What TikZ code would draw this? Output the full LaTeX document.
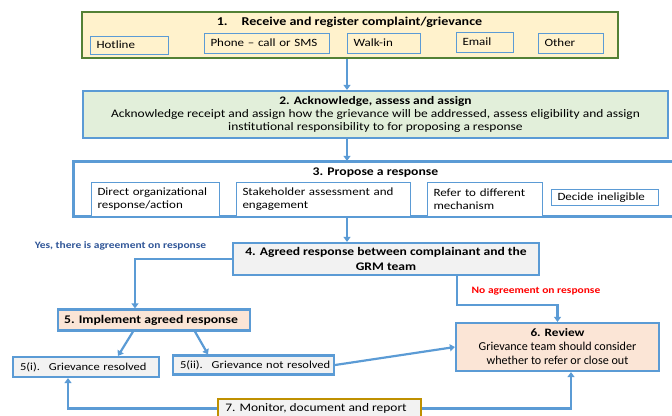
\documentclass[tikz,border=0pt]{standalone}
\usepackage{fontspec}
\setmainfont{Carlito}[FakeStretch=1.17]
\newfontfamily\plainfont{Carlito}
\usetikzlibrary{arrows.meta,calc}
\definecolor{bblue}{HTML}{5B9BD5}
\definecolor{ggreen}{HTML}{538135}
\definecolor{yfill}{HTML}{FFF2CC}
\definecolor{gfill}{HTML}{E2EFDA}
\definecolor{grfill}{HTML}{F2F2F2}
\definecolor{pfill}{HTML}{FBE5D6}
\definecolor{gold}{HTML}{BF9000}
\definecolor{yesblue}{HTML}{2F5597}
\tikzset{
  mainbox/.style={draw=bblue, line width=2.2pt, inner sep=0pt, align=center,
    font=\fontsize{11.5}{13.3}\selectfont},
  subbox/.style={draw=bblue, line width=0.8pt, inner xsep=6.5pt, inner ysep=0pt,
    align=left, font=\fontsize{11.1}{13}\selectfont},
  titletext/.style={inner sep=0pt, font=\fontsize{11.7}{14}\bfseries\selectfont},
  flow/.style={draw=bblue, line width=2.2pt, -{Triangle[length=5pt,width=7pt]}},
  lbl/.style={inner sep=0pt, font=\fontsize{9.8}{11}\bfseries\selectfont}
}
\begin{document}
\begin{tikzpicture}[x=1pt,y=-1pt]
\useasboundingbox (0,0) rectangle (672,415);
% box 1
\node[mainbox, draw=ggreen, line width=2.5pt, fill=yfill, minimum width=536pt, minimum height=46pt] (b1) at (350,35) {};
\node[titletext, font=\fontsize{12}{14}\bfseries\selectfont] (t1) at (349.5,22) {1.\hspace{14pt}Receive and register complaint/grievance};
\node[subbox, fill=yfill, text width=65pt, minimum height=18pt] (hot) at (129,45) {Hotline};
\node[subbox, fill=yfill, text width=112pt, minimum height=20pt] (phone) at (266.5,43) {Phone -- call or SMS};
\node[subbox, fill=yfill, text width=60pt, minimum height=20pt] (walk) at (383.5,43) {Walk-in};
\node[subbox, fill=yfill, text width=44pt, minimum height=20pt] (email) at (484.5,42) {Email};
\node[subbox, fill=yfill, text width=52pt, minimum height=20pt] (other) at (570.5,43) {Other};
\coordinate (spine) at (347,0);
% box 2
\node[mainbox, fill=gfill, minimum width=585pt, minimum height=47pt] (b2) at (375.5,114.5)
 {\textbf{2. Acknowledge, assess and assign}\\
  Acknowledge receipt and assign how the grievance will be addressed, assess eligibility and assign\\
  institutional responsibility to for proposing a response};
% box 3
\node[mainbox, fill=white, minimum width=603pt, minimum height=54pt] (b3) at (375.5,189) {};
\node[titletext] (t3) at (375.5,173) {3. Propose a response};
\node[subbox, fill=white, text width=115pt, minimum height=34pt] (direct) at (155,199) {Direct organizational\\response/action};
\node[subbox, fill=white, text width=161pt, minimum height=34pt] (stake) at (323,199) {Stakeholder assessment and\\engagement};
\node[subbox, fill=white, text width=102pt, minimum height=34pt] (refer) at (484.5,199) {Refer to different\\mechanism};
\node[subbox, fill=white, text width=94pt, minimum height=16pt] (decide) at (604.5,197.5) {Decide ineligible};
% redraw box 3 border over sub-boxes
\draw[draw=bblue, line width=2.2pt] (b3.north west) rectangle (b3.south east);
% box 4
\node[mainbox, fill=grfill, minimum width=306pt, minimum height=32pt, font=\fontsize{11.6}{15}\bfseries\selectfont] (b4) at (386,259)
 {4. Agreed response between complainant and the\\GRM team};
% box 5
\node[mainbox, fill=pfill, minimum width=192pt, minimum height=21pt, font=\fontsize{11.7}{14}\bfseries\selectfont] (b5) at (154,320) {\hspace{-6pt}5. Implement agreed response};
\node[mainbox, fill=grfill, align=left, inner xsep=7pt, text width=132pt, minimum height=20pt, font=\fontsize{10.7}{13}\selectfont] (b5i) at (86,367) {\mbox{5(i).~ Grievance resolved}};
\node[mainbox, fill=grfill, align=left, inner xsep=7pt, text width=147pt, minimum height=19pt, font=\fontsize{10.7}{13}\selectfont] (b5ii) at (253.5,365) {\mbox{5(ii).~ Grievance not resolved}};
% box 6
\node[mainbox, fill=pfill, minimum width=203pt, minimum height=48pt, font=\plainfont\fontsize{12.1}{14}\selectfont] (b6) at (557.5,347)
 {{\normalfont\fontsize{11.3}{14}\bfseries\selectfont 6. Review}\\Grievance team should consider\\whether to refer or close out};
% box 7
\node[mainbox, draw=gold, fill=grfill, minimum width=203pt, minimum height=19pt] (b7) at (319.5,408.5) {\hspace{-7pt}7. Monitor, document and report};
% labels
\node[lbl, text=yesblue] (yes) at (120.5,246) {Yes, there is agreement on response};
\node[lbl, text=red] (no) at (536,291) {No agreement on response};
% connectors
\draw[flow] (b1.south -| spine) -- (b2.north -| spine);
\draw[flow] (b2.south -| spine) -- (b3.north -| spine);
\draw[flow] (b3.south -| spine) -- (b4.north -| spine);
\coordinate (yescol) at (135,0);
\draw[flow] (b4.west) -- (b4.west -| yescol) -- (b5.north -| yescol);
\coordinate (nojoint) at (457,305);
\draw[flow] (b4.south -| nojoint) -- (nojoint) -- (nojoint -| b6.north) -- (b6.north);
\draw[flow] ($(b5.south)+(-21,0)$) -- ($(b5i.north)+(32,0)$);
\draw[flow] ($(b5.south)+(41,0)$) -- ($(b5ii.north)+(-45.5,0)$);
\draw[flow] (b5ii.east) -- (b6.west);
\coordinate (leftcol) at (68,0);
\coordinate (rightcol) at (571,0);
\draw[flow] (b7.west) -- (b7.west -| leftcol) -- (b5i.south -| leftcol);
\draw[flow] (b7.east) -- (b7.east -| rightcol) -- (b6.south -| rightcol);
\end{tikzpicture}
\end{document}
